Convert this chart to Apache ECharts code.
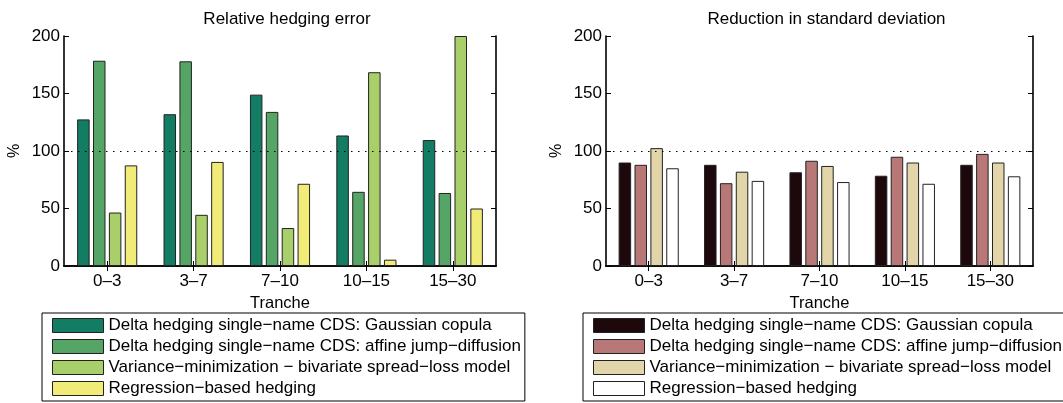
<!DOCTYPE html>
<html>
<head>
<meta charset="utf-8">
<title>Hedging performance by tranche</title>
<script src="https://cdn.jsdelivr.net/npm/echarts@6/dist/echarts.min.js"></script>
<style>
  html, body { margin: 0; padding: 0; background: #fff; }
  #chart { width: 1063px; height: 403px; }
</style>
</head>
<body>
<div id="chart"></div>
<script>
// Tranche categories shared by both panels
const tranches = ['0\u20133', '3\u20137', '7\u201310', '10\u201315', '15\u201330'];

// Hedging strategies (legend labels)
const strategyNames = [
  'Delta hedging single\u2212name CDS: Gaussian copula',
  'Delta hedging single\u2212name CDS: affine jump\u2212diffusion',
  'Variance\u2212minimization \u2212 bivariate spread\u2212loss model',
  'Regression\u2212based hedging'
];

// Relative hedging error (%)
const errGaussian   = [127.5, 132, 149, 113.5, 109.5];
const errAffine     = [178.5, 178, 134, 64.5, 63.5];
const errVarMin     = [46.5, 44.5, 33, 168.5, 200];
const errRegression = [87.5, 90.5, 71.5, 5.5, 50];

// Reduction in standard deviation (%)
const sdGaussian   = [90, 88, 81.5, 78.5, 88];
const sdAffine     = [88, 72, 91.5, 95, 97.5];
const sdVarMin     = [102.5, 82, 87, 90, 90];
const sdRegression = [85, 74, 73, 71.5, 78];

// Y-axis ticks
const yMin = 0, yMax = 200, yStep = 50;
const refLevel = 100;

const greenPalette = ['#127d63', '#55a567', '#a9cf6a', '#f1ec77'];
const brownPalette = ['#1d080b', '#b97878', '#e1d5a9', '#ffffff'];

const FONT = "'Liberation Sans', Arial, Helvetica, sans-serif";
const panels = [
  { title: 'Relative hedging error', left: 64, width: 432,
    values: [errGaussian, errAffine, errVarMin, errRegression], colors: greenPalette, legendLeft: 42 },
  { title: 'Reduction in standard deviation', left: 606, width: 427,
    values: [sdGaussian, sdAffine, sdVarMin, sdRegression], colors: brownPalette, legendLeft: 583 }
];

const gridTop = 36, gridHeight = 230;
const axisLine = { show: true, lineStyle: { color: '#000', width: 1.6 } };
const tickIn = { show: true, inside: true, length: 5, lineStyle: { color: '#000', width: 1 } };

const option = {
  animation: false,
  backgroundColor: '#fff',
  textStyle: { fontFamily: FONT },
  title: [], grid: [], xAxis: [], yAxis: [], legend: [], series: []
};

panels.forEach((p, i) => {
  option.title.push({
    text: p.title,
    left: p.left + p.width / 2 + 2,
    top: 6,
    textAlign: 'center',
    textStyle: { fontFamily: FONT, fontSize: 17, fontWeight: 'normal', color: '#000' }
  });
  option.grid.push({ left: p.left, top: gridTop, width: p.width, height: gridHeight,
                     show: false, containLabel: false });

  // bottom (labelled) and top (ticks only) category axes
  option.xAxis.push({
    type: 'category', gridIndex: i, position: 'bottom', data: tranches,
    name: 'Tranche', nameLocation: 'middle', nameGap: 26,
    nameTextStyle: { fontFamily: FONT, fontSize: 16.5, color: '#000' },
    axisLine: axisLine, axisTick: Object.assign({ alignWithLabel: true }, tickIn),
    axisLabel: { fontFamily: FONT, fontSize: 17, color: '#000', margin: 7 },
    splitLine: { show: false }
  });
  option.xAxis.push({
    type: 'category', gridIndex: i, position: 'top', data: tranches,
    axisLine: axisLine, axisTick: Object.assign({ alignWithLabel: true }, tickIn),
    axisLabel: { show: false }, splitLine: { show: false }
  });

  // left (labelled) and right (ticks only) value axes
  option.yAxis.push({
    type: 'value', gridIndex: i, position: 'left', min: yMin, max: yMax, interval: yStep,
    name: '%', nameLocation: 'middle', nameGap: 41,
    nameTextStyle: { fontFamily: FONT, fontSize: 16, color: '#000' },
    axisLine: axisLine, axisTick: tickIn,
    axisLabel: { fontFamily: FONT, fontSize: 17, color: '#000', margin: 4 },
    splitLine: { show: false }
  });
  option.yAxis.push({
    type: 'value', gridIndex: i, position: 'right', min: yMin, max: yMax, interval: yStep,
    axisLine: axisLine, axisTick: tickIn, axisLabel: { show: false }, splitLine: { show: false }
  });

  option.legend.push({
    orient: 'vertical',
    left: p.legendLeft, top: 313,
    padding: [4, 4, 4, 10],
    itemWidth: 51, itemHeight: 14, itemGap: 4,
    backgroundColor: '#fff', borderColor: '#000', borderWidth: 1, borderRadius: 0,
    selectedMode: false,
    textStyle: { fontFamily: FONT, fontSize: 17, color: '#000', lineHeight: 17 },
    data: strategyNames.map((n, k) => ({
      name: n, icon: 'rect',
      itemStyle: { color: p.colors[k], borderColor: '#222', borderWidth: 1 }
    }))
  });

  p.values.forEach((vals, k) => {
    const s = {
      type: 'bar', name: strategyNames[k],
      xAxisIndex: i * 2, yAxisIndex: i * 2,
      data: vals,
      barWidth: 12.5, barGap: '27%',
      itemStyle: { color: p.colors[k], borderColor: '#222', borderWidth: 1 },
      emphasis: { disabled: true }
    };
    if (k === 0) {
      s.markLine = {
        silent: true, symbol: 'none', label: { show: false },
        lineStyle: { color: '#000', type: [1.5, 5.5], width: 1 },
        data: [{ yAxis: refLevel }]
      };
    }
    option.series.push(s);
  });
});

const chart = echarts.init(document.getElementById('chart'));
chart.setOption(option);
</script>
</body>
</html>
